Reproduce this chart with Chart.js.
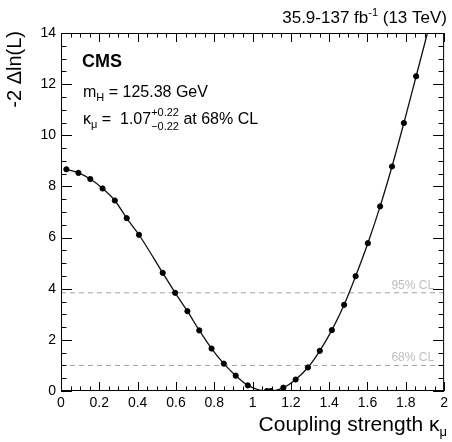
<!DOCTYPE html>
<html>
<head>
<meta charset="utf-8">
<script src="https://cdn.jsdelivr.net/npm/chart.js@4.4.1/dist/chart.umd.min.js"></script>
<style>
  html, body { margin: 0; padding: 0; background: #fff; }
  #wrap { width: 452px; height: 442px; }
</style>
</head>
<body>
<div id="wrap"><canvas id="scanChart" width="452" height="442"></canvas></div>
<script>
// likelihood scan points
const kappa = [0.028, 0.091, 0.153, 0.217, 0.281, 0.343, 0.407, 0.531, 0.596, 0.660,
               0.722, 0.786, 0.850, 0.912, 0.975, 1.075, 1.095, 1.161, 1.225, 1.289,
               1.351, 1.414, 1.478, 1.538, 1.602, 1.666, 1.728, 1.790, 1.854];
const nll = [8.67, 8.53, 8.29, 7.92, 7.45, 6.76, 6.11, 4.62, 3.84, 3.12,
             2.37, 1.66, 1.07, 0.60, 0.22, 0.0, 0.0, 0.13, 0.45, 0.92,
             1.57, 2.38, 3.37, 4.49, 5.78, 7.22, 8.78, 10.48, 12.31];
// where the fitted curve leaves the top of the frame
const curveEnd = { x: 1.92, y: 14.2 };

const clLevels = [1.0, 3.84];
const clLabels = ['68% CL', '95% CL'];

const xRange = [0, 2];
const yRange = [0, 14];

const FONT = '"Liberation Sans", Arial, Helvetica, sans-serif';

const points = kappa.map((k, i) => ({ x: k, y: nll[i] }));
const curve = points.concat([curveEnd]);

// draws a run of text pieces, each with its own size and vertical shift
function drawRich(ctx, x, y, parts, align) {
    ctx.save();
    ctx.textBaseline = 'alphabetic';
    ctx.textAlign = 'left';
    let total = 0;
    parts.forEach(p => {
        ctx.font = p.font;
        p.w = p.stack ? Math.max(ctx.measureText(p.text).width, ctx.measureText(p.stack).width)
                      : ctx.measureText(p.text).width;
        total += p.w;
    });
    let cx = align === 'right' ? x - total : x;
    parts.forEach(p => {
        ctx.font = p.font;
        ctx.fillStyle = p.color || '#000';
        ctx.fillText(p.text, cx, y + (p.dy || 0));
        if (p.stack) ctx.fillText(p.stack, cx, y + p.dy2);
        cx += p.w;
    });
    ctx.restore();
}

const frameTicks = {
    id: 'frameTicks',
    afterDatasetsDraw(chart) {
        const { ctx, chartArea: a, scales } = chart;
        const xs = scales.x, ys = scales.y;
        ctx.save();
        ctx.strokeStyle = '#000';
        ctx.lineWidth = 1;
        ctx.strokeRect(a.left + 0.5, a.top + 0.5, a.right - a.left - 1, a.bottom - a.top - 1);
        ctx.beginPath();
        for (let i = 0; i <= 40; i++) {
            const v = i * 0.05;
            const px = Math.round(xs.getPixelForValue(v)) + 0.5;
            const len = i % 4 === 0 ? 9 : 4.5;
            ctx.moveTo(px, a.bottom); ctx.lineTo(px, a.bottom - len);
            ctx.moveTo(px, a.top); ctx.lineTo(px, a.top + len);
        }
        for (let i = 0; i <= 28; i++) {
            const v = i * 0.5;
            const py = Math.round(ys.getPixelForValue(v)) + 0.5;
            const len = i % 4 === 0 ? 11 : 5.5;
            ctx.moveTo(a.left, py); ctx.lineTo(a.left + len, py);
            ctx.moveTo(a.right, py); ctx.lineTo(a.right - len, py);
        }
        ctx.stroke();
        ctx.restore();
    }
};

const labelsPlugin = {
    id: 'labelsPlugin',
    afterDraw(chart) {
        const { ctx, chartArea: a, scales } = chart;
        const ys = scales.y;

        // CL labels above the dashed lines
        ctx.save();
        ctx.font = '12px ' + FONT;
        ctx.fillStyle = '#bdbdbd';
        ctx.textAlign = 'right';
        ctx.textBaseline = 'alphabetic';
        clLevels.forEach((lvl, i) => {
            ctx.fillText(clLabels[i], a.right - 10, ys.getPixelForValue(lvl) - 4);
        });
        ctx.restore();

        // CMS label block
        ctx.save();
        ctx.font = 'bold 18px ' + FONT;
        ctx.fillStyle = '#000';
        ctx.textBaseline = 'alphabetic';
        ctx.fillText('CMS', 82, 67);
        ctx.restore();

        const big = '16px ' + FONT, small = '11px ' + FONT;
        drawRich(ctx, 83, 97, [
            { text: 'm', font: big },
            { text: 'H', font: small, dy: 4 },
            { text: ' = 125.38 GeV', font: big }
        ]);
        drawRich(ctx, 83, 124, [
            { text: 'κ', font: big },
            { text: 'μ', font: small, dy: 4 },
            { text: ' =  1.07', font: big },
            { text: '+0.22', stack: '\u22120.22', font: small, dy: -8, dy2: 6 },
            { text: ' at 68% CL', font: big }
        ]);

        // luminosity title
        drawRich(ctx, 447, 23, [
            { text: '35.9-137 fb', font: '17px ' + FONT },
            { text: '-1', font: '11px ' + FONT, dy: -7 },
            { text: ' (13 TeV)', font: '17px ' + FONT }
        ], 'right');

        // x axis title
        drawRich(ctx, 447, 431, [
            { text: 'Coupling strength κ', font: '21px ' + FONT },
            { text: 'μ', font: '13px ' + FONT, dy: 5 }
        ], 'right');

        // y axis title, aligned to the top of the frame
        ctx.save();
        ctx.translate(21, a.top - 2);
        ctx.rotate(-Math.PI / 2);
        ctx.font = '20px ' + FONT;
        ctx.fillStyle = '#000';
        ctx.textAlign = 'right';
        ctx.textBaseline = 'alphabetic';
        ctx.fillText('-2 \u0394ln(L)', 0, 0);
        ctx.restore();
    }
};

const ctx = document.getElementById('scanChart').getContext('2d');

new Chart(ctx, {
    type: 'scatter',
    data: {
        datasets: [
            {
                label: 'fit',
                data: curve,
                showLine: true,
                borderColor: '#111',
                borderWidth: 1.3,
                pointRadius: 0,
                cubicInterpolationMode: 'monotone',
                order: 2
            },
            {
                label: 'scan',
                data: points,
                showLine: false,
                backgroundColor: '#000',
                borderColor: '#000',
                pointRadius: 2.6,
                order: 1
            },
            ...clLevels.map(lvl => ({
                label: 'cl' + lvl,
                data: [{ x: xRange[0], y: lvl }, { x: xRange[1], y: lvl }],
                showLine: true,
                borderColor: '#a0a0a0',
                borderWidth: 1,
                borderDash: [5, 4],
                pointRadius: 0,
                order: 3
            }))
        ]
    },
    options: {
        responsive: false,
        animation: false,
        layout: { padding: { top: 33, right: 4, left: 0, bottom: 0 } },
        plugins: {
            legend: { display: false },
            tooltip: { enabled: false }
        },
        scales: {
            x: {
                type: 'linear',
                min: xRange[0],
                max: xRange[1],
                grid: { display: false, drawTicks: false },
                border: { display: false },
                ticks: {
                    stepSize: 0.2,
                    padding: 4,
                    color: '#000',
                    maxRotation: 0,
                    autoSkip: false,
                    font: { family: FONT, size: 14 },
                    callback: v => String(parseFloat(v.toFixed(1)))
                },
                afterFit: s => { s.height = 51; }
            },
            y: {
                type: 'linear',
                min: yRange[0],
                max: yRange[1],
                grid: { display: false, drawTicks: false },
                border: { display: false },
                ticks: {
                    stepSize: 2,
                    padding: 5,
                    color: '#000',
                    font: { family: FONT, size: 14 }
                },
                afterFit: s => { s.width = 61; }
            }
        }
    },
    plugins: [frameTicks, labelsPlugin]
});
</script>
</body>
</html>
